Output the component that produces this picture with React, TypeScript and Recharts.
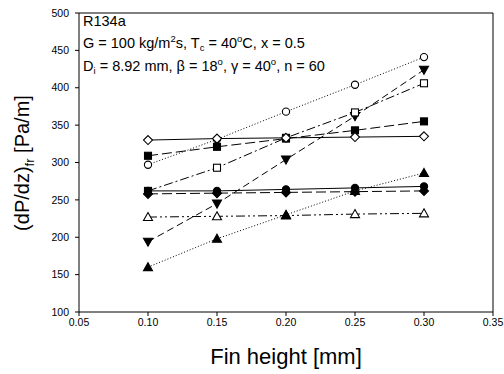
import React from 'react';
import { LineChart, Line, XAxis, YAxis, ReferenceLine, Customized } from 'recharts';

const finHeights = [0.1, 0.15, 0.2, 0.25, 0.3];
const openCircle = [297, 331, 368, 404, 441];
const filledDown = [194, 245, 304, 362, 424];
const openSquare = [262, 293, 333, 367, 406];
const filledSquare = [309, 321, 332, 343, 355];
const openDiamond = [330, 332, 333, 334, 335];
const filledCircle = [262, 262, 264, 266, 268];
const filledDiamond = [258, 259, 260, 261, 262];
const openTriangle = [227, 228, 229, 231, 232];
const filledUp = [160, 198, 230, 262, 286];

const xTicks = [0.05, 0.1, 0.15, 0.2, 0.25, 0.3, 0.35];
const yTicks = [100, 150, 200, 250, 300, 350, 400, 450, 500];

const data = finHeights.map((x, i) => ({
  x,
  oc: openCircle[i],
  fd: filledDown[i],
  os: openSquare[i],
  fs: filledSquare[i],
  od: openDiamond[i],
  fc: filledCircle[i],
  fdi: filledDiamond[i],
  ot: openTriangle[i],
  fu: filledUp[i],
}));

const FONT = '"Liberation Sans", Arial, sans-serif';

type Shape = 'circle' | 'square' | 'up' | 'down' | 'diamond';

const makeDot = (shape: Shape, filled: boolean) => (props: any) => {
  const { cx, cy, index } = props;
  const key = `${shape}-${filled}-${index}`;
  if (cx == null || cy == null) return <g key={key} />;
  const fill = filled ? '#000' : '#fff';
  const common = { fill, stroke: '#000', strokeWidth: 1.1 };
  switch (shape) {
    case 'circle':
      return <circle key={key} cx={cx} cy={cy} r={3.6} {...common} />;
    case 'square':
      return <rect key={key} x={cx - 3.5} y={cy - 3.5} width={7} height={7} {...common} />;
    case 'up':
      return <polygon key={key} points={`${cx},${cy - 4.5} ${cx + 4.5},${cy + 3.5} ${cx - 4.5},${cy + 3.5}`} {...common} />;
    case 'down':
      return <polygon key={key} points={`${cx},${cy + 4.5} ${cx + 4.5},${cy - 3.5} ${cx - 4.5},${cy - 3.5}`} {...common} />;
    case 'diamond':
    default:
      return <polygon key={key} points={`${cx},${cy - 4.5} ${cx + 4.5},${cy} ${cx},${cy + 4.5} ${cx - 4.5},${cy}`} {...common} />;
  }
};

const Annotations = () => (
  <g fontFamily={FONT} fill="#000">
    <text x={83} y={26} fontSize={14.5}>R134a</text>
    <text x={83} y={48} fontSize={14.5}>
      G = 100 kg/m<tspan fontSize={9.5} dy={-6}>2</tspan>
      <tspan dy={6}>s, T</tspan>
      <tspan fontSize={9.5} dy={3}>c</tspan>
      <tspan dy={-3}> = 40</tspan>
      <tspan fontSize={9.5} dy={-6}>o</tspan>
      <tspan dy={6}>C, x = 0.5</tspan>
    </text>
    <text x={83} y={71} fontSize={14.5}>
      D<tspan fontSize={9.5} dy={3}>i</tspan>
      <tspan dy={-3}> = 8.92 mm, β = 18</tspan>
      <tspan fontSize={9.5} dy={-6}>o</tspan>
      <tspan dy={6}>, γ = 40</tspan>
      <tspan fontSize={9.5} dy={-6}>o</tspan>
      <tspan dy={6}>, n = 60</tspan>
    </text>
    <text x={286} y={364} fontSize={22} textAnchor="middle">Fin height [mm]</text>
    <text transform="translate(29,163) rotate(-90)" fontSize={20} textAnchor="middle">
      (dP/dz)<tspan fontSize={13} dy={5}>fr</tspan>
      <tspan dy={-5}> [Pa/m]</tspan>
    </text>
  </g>
);

const series: { key: string; shape: Shape; filled: boolean; dash?: string }[] = [
  { key: 'oc', shape: 'circle', filled: false, dash: '1 2' },
  { key: 'fd', shape: 'down', filled: true, dash: '7 4' },
  { key: 'os', shape: 'square', filled: false, dash: '9 3 2 3' },
  { key: 'fs', shape: 'square', filled: true, dash: '10 4' },
  { key: 'od', shape: 'diamond', filled: false },
  { key: 'fc', shape: 'circle', filled: true },
  { key: 'fdi', shape: 'diamond', filled: true, dash: '10 4' },
  { key: 'ot', shape: 'up', filled: false, dash: '9 3 2 3 2 3' },
  { key: 'fu', shape: 'up', filled: true, dash: '1 2' },
];

export default function App() {
  return (
    <div style={{ position: 'absolute', left: 0, top: 0, width: 504, height: 374, background: '#fff' }}>
      <LineChart width={504} height={374} data={data} margin={{ top: 13, right: 11, left: 0, bottom: 32 }}>
        <XAxis
          dataKey="x"
          type="number"
          domain={[0.05, 0.35]}
          ticks={xTicks}
          tickFormatter={(v: number) => v.toFixed(2)}
          height={30}
          tickSize={4}
          tickMargin={3}
          stroke="#000"
          tick={{ fill: '#000', fontSize: 10.5, fontFamily: FONT }}
          allowDataOverflow
        />
        <YAxis
          type="number"
          domain={[100, 500]}
          ticks={yTicks}
          width={79}
          tickSize={4}
          tickMargin={6}
          stroke="#000"
          tick={{ fill: '#000', fontSize: 10.5, fontFamily: FONT }}
          allowDataOverflow
        />
        <ReferenceLine y={500} stroke="#000" strokeWidth={1} />
        <ReferenceLine x={0.35} stroke="#000" strokeWidth={1} />
        {series.map((s) => (
          <Line
            key={s.key}
            dataKey={s.key}
            stroke="#000"
            strokeWidth={1}
            strokeDasharray={s.dash}
            dot={makeDot(s.shape, s.filled)}
            activeDot={false}
            isAnimationActive={false}
            type="linear"
          />
        ))}
        <Customized component={<Annotations />} />
      </LineChart>
    </div>
  );
}
